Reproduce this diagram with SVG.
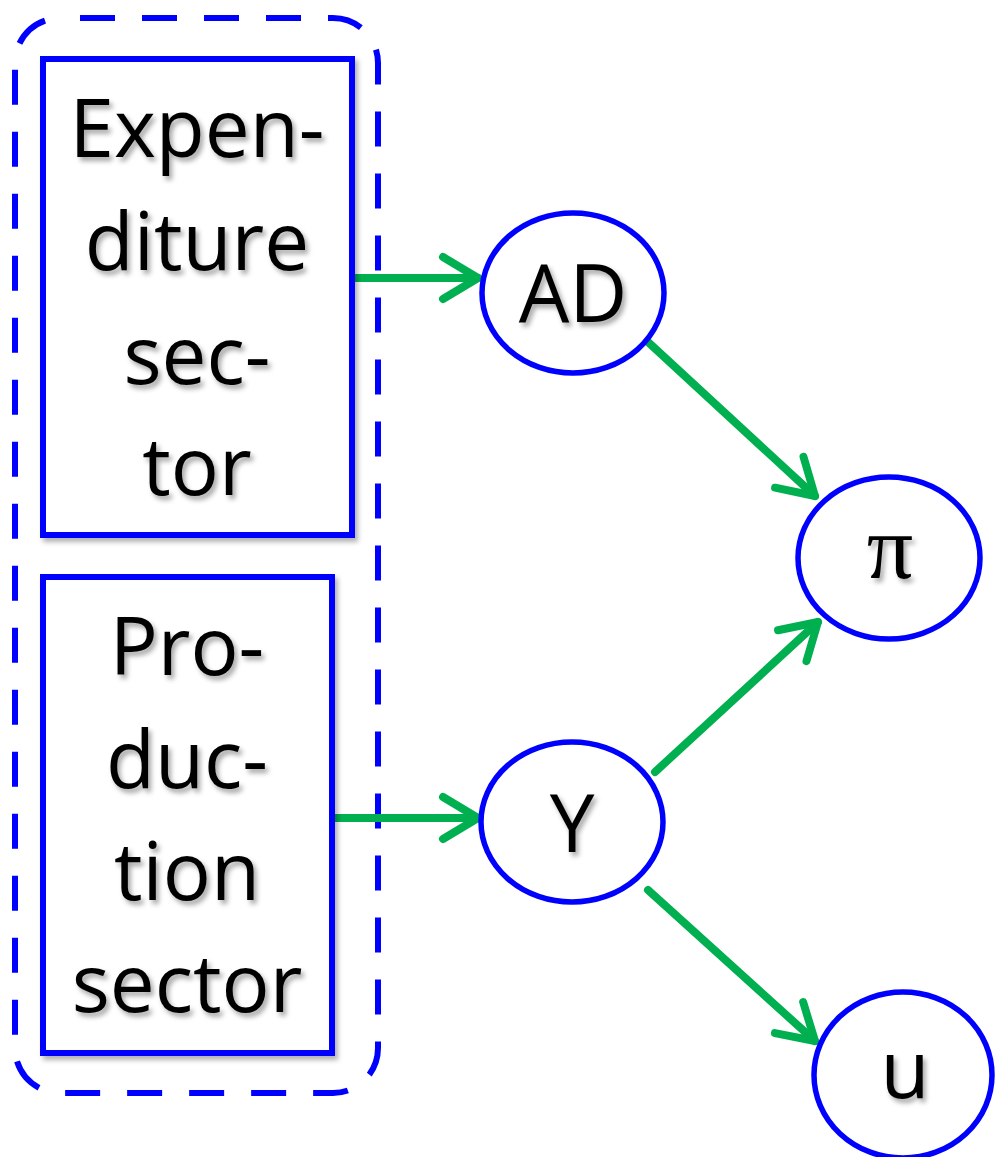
<svg xmlns="http://www.w3.org/2000/svg" width="996" height="1157" viewBox="0 0 996 1157">
<style>
.t{font-family:"Open Sans","Liberation Sans",sans-serif;font-size:80px;fill:#000;text-anchor:middle;filter:url(#sh)}
.g{font-family:"Liberation Serif",serif;font-size:92px;fill:#000;text-anchor:middle;filter:url(#sh)}
.box{fill:#fff;stroke:#0000ff;stroke-width:6;filter:url(#bs)}
.ell{fill:#fff;stroke:#0000ff;stroke-width:5.5}
.c{stroke:#00b050;stroke-width:8;fill:none;stroke-linecap:round;marker-end:url(#ah)}
</style>
<defs>
<filter id="sh" x="-20%" y="-20%" width="140%" height="140%"><feDropShadow dx="3" dy="4" stdDeviation="2.5" flood-color="#000" flood-opacity="0.35"/></filter>
<filter id="bs" x="-10%" y="-10%" width="120%" height="120%"><feDropShadow dx="3" dy="4" stdDeviation="2.5" flood-color="#000" flood-opacity="0.3"/></filter>
<marker id="ah" viewBox="0 0 20 24" refX="18" refY="12" markerWidth="6" markerHeight="7" markerUnits="strokeWidth" orient="auto">
<path d="M3,3 L18,12 L3,21" fill="none" stroke="#00b050" stroke-width="3.4" stroke-linecap="round" stroke-linejoin="round"/>
</marker>
</defs>
<rect id="group" x="15" y="18" width="363" height="1075" rx="45" ry="45" fill="none" stroke="#0000ff" stroke-width="6" stroke-dasharray="35 27" stroke-dashoffset="-20"/>
<g id="connectors">
<path class="c" d="M352,278 L478,278"/>
<path class="c" d="M332,818 L478,818"/>
<path class="c" d="M648,342 L815,496"/>
<path class="c" d="M655,772 L818,622"/>
<path class="c" d="M648,890 L815,1041"/>
</g>
<g id="expenditure">
<rect class="box" x="43" y="59" width="309" height="476"/>
<text class="t" x="197" y="157">Expen-</text>
<text class="t" x="197" y="270">diture</text>
<text class="t" x="197" y="384">sec-</text>
<text class="t" x="197" y="495">tor</text>
</g>
<g id="production">
<rect class="box" x="43" y="577" width="289" height="476"/>
<text class="t" x="187" y="675">Pro-</text>
<text class="t" x="187" y="788">duc-</text>
<text class="t" x="187" y="900">tion</text>
<text class="t" x="187" y="1012">sector</text>
</g>
<g id="AD">
<ellipse class="ell" cx="573" cy="293" rx="91" ry="80"/>
<text class="t" x="573" y="322">AD</text>
</g>
<g id="pi">
<ellipse class="ell" cx="889" cy="558" rx="91" ry="81"/>
<text class="g" x="890" y="578">π</text>
</g>
<g id="Y">
<ellipse class="ell" cx="572" cy="822" rx="91" ry="80"/>
<text class="t" x="572" y="852">Y</text>
</g>
<g id="u">
<ellipse class="ell" cx="903" cy="1075" rx="89" ry="83"/>
<text class="t" x="905" y="1098">u</text>
</g>
</svg>
